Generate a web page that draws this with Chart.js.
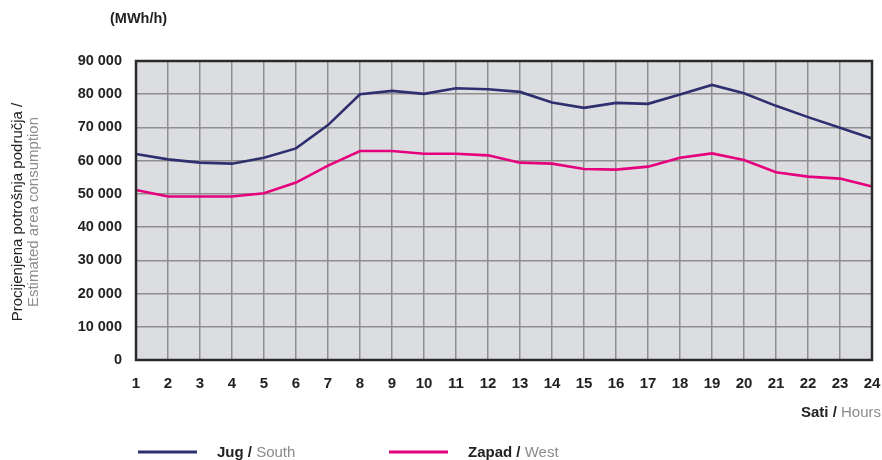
<!DOCTYPE html>
<html>
<head>
<meta charset="utf-8">
<script src="https://cdn.jsdelivr.net/npm/chart.js@4"></script>
<style>
html,body{margin:0;padding:0;background:#fff;}
#wrap{position:relative;width:882px;height:460px;}
</style>
</head>
<body>
<div id="wrap"><canvas id="c" width="882" height="460"></canvas></div>
<script>
const hours = ['1','2','3','4','5','6','7','8','9','10','11','12','13','14','15','16','17','18','19','20','21','22','23','24'];
const jugSouth = [62000,60400,59400,59100,60900,63700,70700,80000,81000,80100,81800,81500,80700,77500,75900,77400,77100,79900,82800,80300,76500,73100,69900,66700];
const zapadWest = [51200,49200,49200,49200,50200,53400,58500,62900,62900,62100,62100,61600,59400,59100,57500,57300,58200,60900,62200,60200,56500,55200,54600,52200];
const yTicks = [0,10000,20000,30000,40000,50000,60000,70000,80000,90000];
const unitLabel = '(MWh/h)';
const yTitleHr = 'Procijenjena potrošnja područja /';
const yTitleEn = 'Estimated area consumption';
const xTitleHr = 'Sati / ';
const xTitleEn = 'Hours';
const seriesNames = [['Jug / ','South'],['Zapad / ','West']];
const colors = ['#2e2f6f','#e5007d'];

const FONT = '"Liberation Sans", Arial, sans-serif';

const decor = {
  id:'decor',
  beforeDraw(chart){
    const {ctx, chartArea:a} = chart;
    ctx.save();
    ctx.fillStyle = '#dcdde0';
    ctx.fillRect(a.left, a.top, a.right-a.left, a.bottom-a.top);
    ctx.restore();
  },
  afterDraw(chart){
    const {ctx, chartArea:a} = chart;
    ctx.save();
    ctx.strokeStyle = '#2a2a2a';
    ctx.lineWidth = 2.5;
    ctx.strokeRect(a.left, a.top, a.right-a.left, a.bottom-a.top);
    // unit label
    ctx.fillStyle = '#222';
    ctx.font = 'bold 14.5px ' + FONT;
    ctx.textAlign = 'left'; ctx.textBaseline = 'middle';
    ctx.fillText(unitLabel, 110, 19);
    // y title
    ctx.save();
    ctx.translate(18, 212);
    ctx.rotate(-Math.PI/2);
    ctx.textAlign = 'center';
    ctx.font = '15px ' + FONT;
    ctx.fillStyle = '#222';
    ctx.fillText(yTitleHr, 0, 0);
    ctx.fillStyle = '#8c8c8c';
    ctx.fillText(yTitleEn, 0, 16);
    ctx.restore();
    // x title
    ctx.font = 'bold 15px ' + FONT;
    ctx.textAlign = 'left';
    const w1 = ctx.measureText(xTitleHr).width;
    ctx.font = '15px ' + FONT;
    const w2 = ctx.measureText(xTitleEn).width;
    const xs = 881 - w1 - w2;
    ctx.font = 'bold 15px ' + FONT;
    ctx.fillStyle = '#222';
    ctx.fillText(xTitleHr, xs, 413);
    ctx.font = '15px ' + FONT;
    ctx.fillStyle = '#8c8c8c';
    ctx.fillText(xTitleEn, xs + w1, 413);
    // legend
    const lx = [138, 389];
    seriesNames.forEach((n,i)=>{
      ctx.strokeStyle = colors[i];
      ctx.lineWidth = 3;
      ctx.beginPath();
      ctx.moveTo(lx[i], 452); ctx.lineTo(lx[i]+59, 452);
      ctx.stroke();
      ctx.font = 'bold 15px ' + FONT;
      ctx.fillStyle = '#222';
      ctx.fillText(n[0], lx[i]+79, 453);
      const ww = ctx.measureText(n[0]).width;
      ctx.font = '15px ' + FONT;
      ctx.fillStyle = '#8c8c8c';
      ctx.fillText(n[1], lx[i]+79+ww, 453);
    });
    ctx.restore();
  }
};

new Chart(document.getElementById('c'), {
  type:'line',
  data:{
    labels: hours,
    datasets:[
      {label:'Jug / South', data:jugSouth, borderColor:colors[0], borderWidth:2.6, pointRadius:0, tension:0, fill:false},
      {label:'Zapad / West', data:zapadWest, borderColor:colors[1], borderWidth:2.6, pointRadius:0, tension:0, fill:false}
    ]
  },
  options:{
    responsive:false,
    animation:false,
    devicePixelRatio:1,
    layout:{padding:{left:0,right:10,top:61,bottom:0}},
    plugins:{legend:{display:false}, tooltip:{enabled:false}},
    scales:{
      x:{
        offset:false,
        grid:{color:'#8f8f8f', lineWidth:1.5, drawTicks:false},
        border:{display:false},
        ticks:{color:'#222', font:{family:FONT, size:15, weight:'bold'}, padding:15, maxRotation:0, autoSkip:false},
        afterFit(s){ s.height = 100; s.paddingLeft = 0; s.paddingRight = 0; }
      },
      y:{
        min:0, max:90000,
        afterBuildTicks(s){ s.ticks = yTicks.map(v=>({value:v})); },
        grid:{color:'#8f8f8f', lineWidth:1.5, drawTicks:false},
        border:{display:false},
        ticks:{color:'#222', font:{family:FONT, size:14.5, weight:'bold'}, padding:14,
          callback(v){ return String(v).replace(/\B(?=(\d{3})+(?!\d))/g,' '); }},
        afterFit(s){ s.width = 136; s.paddingTop = 0; s.paddingBottom = 0; }
      }
    }
  },
  plugins:[decor]
});
</script>
</body>
</html>
